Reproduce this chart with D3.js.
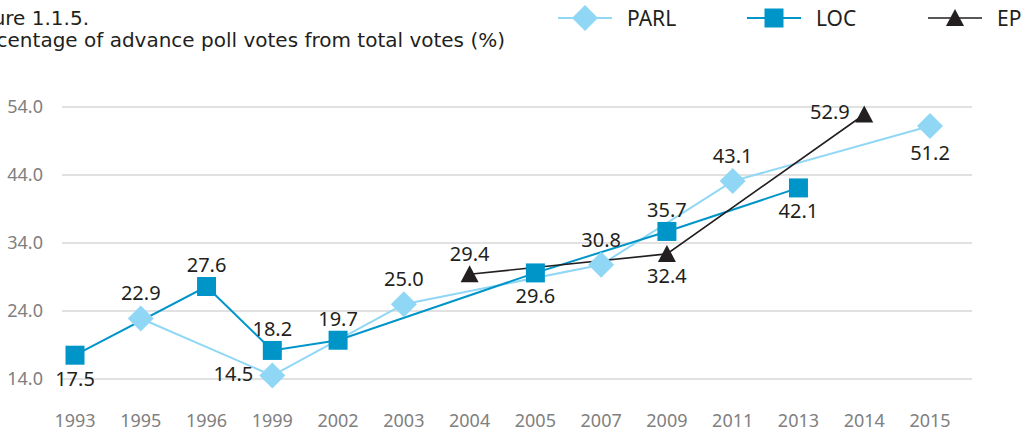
<!DOCTYPE html>
<html>
<head>
<meta charset="utf-8">
<script src="https://cdn.jsdelivr.net/npm/d3@7"></script>
<style>
  body { margin: 0; background: #fff; }
  svg { display: block; font-family: "Noto Sans", "DejaVu Sans", sans-serif; }
</style>
</head>
<body>
<div id="chart"></div>
<script>
const w = 1030;
const h = 434;

const years = ["1993", "1995", "1996", "1999", "2002", "2003", "2004", "2005", "2007", "2009", "2011", "2013", "2014", "2015"];
const parl = [null, 22.9, null, 14.5, null, 25.0, null, null, 30.8, null, 43.1, null, null, 51.2];
const loc  = [17.5, null, 27.6, 18.2, 19.7, null, null, 29.6, null, 35.7, null, 42.1, null, null];
const ep   = [null, null, null, null, null, null, 29.4, null, null, 32.4, null, null, 52.9, null];
// where each value label sits: t = above, b = below, l = left
const parlLabelPos = [null, "t", null, "l", null, "t", null, null, "t", null, "t", null, null, "b"];
const locLabelPos  = ["b", null, "t", "t", "t", null, null, "b", null, "t", null, "b", null, null];
const epLabelPos   = [null, null, null, null, null, null, "t", null, null, "b", null, null, "l", null];
const yTicks = [14, 24, 34, 44, 54];

const series = [
  {name: "PARL", values: parl, pos: parlLabelPos, color: "#90d7f6", width: 2, symbol: "diamond", half: 13},
  {name: "LOC", values: loc, pos: locLabelPos, color: "#0095c9", width: 2, symbol: "square", half: 9.5},
  {name: "EP", values: ep, pos: epLabelPos, color: "#231f20", width: 1.6, symbol: "triangle", half: 8.5}
];

const svg = d3.select("#chart")
  .append("svg")
  .attr("width", w)
  .attr("height", h);

const x = d3.scalePoint().domain(years).range([75, 930]);
const y = d3.scaleLinear().domain([14, 54]).range([379, 107]);

// title (cut off on the left like the original)
svg.append("text")
  .attr("x", 89).attr("y", 25)
  .attr("text-anchor", "end")
  .style("font-family", "'DejaVu Sans', sans-serif")
  .style("font-size", "20px").style("fill", "#231f20")
  .text("Figure 1.1.5.");
svg.append("text")
  .attr("x", 505).attr("y", 47)
  .attr("text-anchor", "end")
  .style("font-family", "'DejaVu Sans', sans-serif")
  .style("font-size", "20px").style("fill", "#231f20")
  .text("Percentage of advance poll votes from total votes (%)");

// grid + y labels
svg.selectAll(".grid")
  .data(yTicks)
  .enter()
  .append("line")
  .attr("x1", 62).attr("x2", 972)
  .attr("y1", d => y(d)).attr("y2", d => y(d))
  .style("stroke", "#c4c4c4")
  .style("stroke-width", 1.2);

svg.selectAll(".ytick")
  .data(yTicks)
  .enter()
  .append("text")
  .attr("x", 43)
  .attr("y", d => y(d) + 6)
  .attr("text-anchor", "end")
  .style("font-size", "18px").style("fill", "#808080")
  .text(d => d3.format(".1f")(d));

// x labels
svg.selectAll(".xtick")
  .data(years)
  .enter()
  .append("text")
  .attr("x", d => x(d))
  .attr("y", 427)
  .attr("text-anchor", "middle")
  .style("font-size", "18px").style("fill", "#808080")
  .text(d => d);

function symbolPath(s, cx, cy) {
  if (s.symbol === "diamond") {
    const r = s.half;
    return `M${cx},${cy - r}L${cx + r},${cy}L${cx},${cy + r}L${cx - r},${cy}Z`;
  } else if (s.symbol === "square") {
    const r = s.half;
    return `M${cx - r},${cy - r}H${cx + r}V${cy + r}H${cx - r}Z`;
  } else {
    return `M${cx},${cy - 9}L${cx + 9},${cy + 8}L${cx - 9},${cy + 8}Z`;
  }
}

const line = d3.line().x(d => x(d.year)).y(d => y(d.value));

series.forEach(s => {
  s.points = years.map((yr, i) => ({year: yr, value: s.values[i], pos: s.pos[i]}))
    .filter(d => d.value !== null);
  svg.append("path")
    .datum(s.points)
    .attr("d", line)
    .style("fill", "none")
    .style("stroke", s.color)
    .style("stroke-width", s.width);
});

series.forEach(s => {
  svg.selectAll(".m-" + s.name)
    .data(s.points)
    .enter()
    .append("path")
    .attr("d", d => symbolPath(s, x(d.year), y(d.value)))
    .style("fill", s.color);
});

series.forEach(s => {
  svg.selectAll(".l-" + s.name)
    .data(s.points)
    .enter()
    .append("text")
    .attr("x", d => d.pos === "l" ? x(d.year) - s.half - 6 : x(d.year))
    .attr("y", d => {
      const cy = y(d.value);
      if (d.pos === "t") return cy - s.half - 5;
      if (d.pos === "b") return cy + s.half + 21;
      return cy + 5;
    })
    .attr("text-anchor", d => d.pos === "l" ? "end" : "middle")
    .style("font-size", "20px").style("fill", "#231f20")
    .text(d => d3.format(".1f")(d.value));
});

// legend
const legendX = [585, 774, 955];
series.forEach((s, i) => {
  const cx = legendX[i];
  const g = svg.append("g");
  g.append("line")
    .attr("x1", cx - 27).attr("x2", cx + 27)
    .attr("y1", 18).attr("y2", 18)
    .style("stroke", s.color)
    .style("stroke-width", s.width);
  g.append("path")
    .attr("d", symbolPath(s, cx, 18))
    .style("fill", s.color);
  g.append("text")
    .attr("x", cx + 42)
    .attr("y", 26)
    .style("font-size", "21px").style("fill", "#231f20")
    .text(s.name);
});
</script>
</body>
</html>
